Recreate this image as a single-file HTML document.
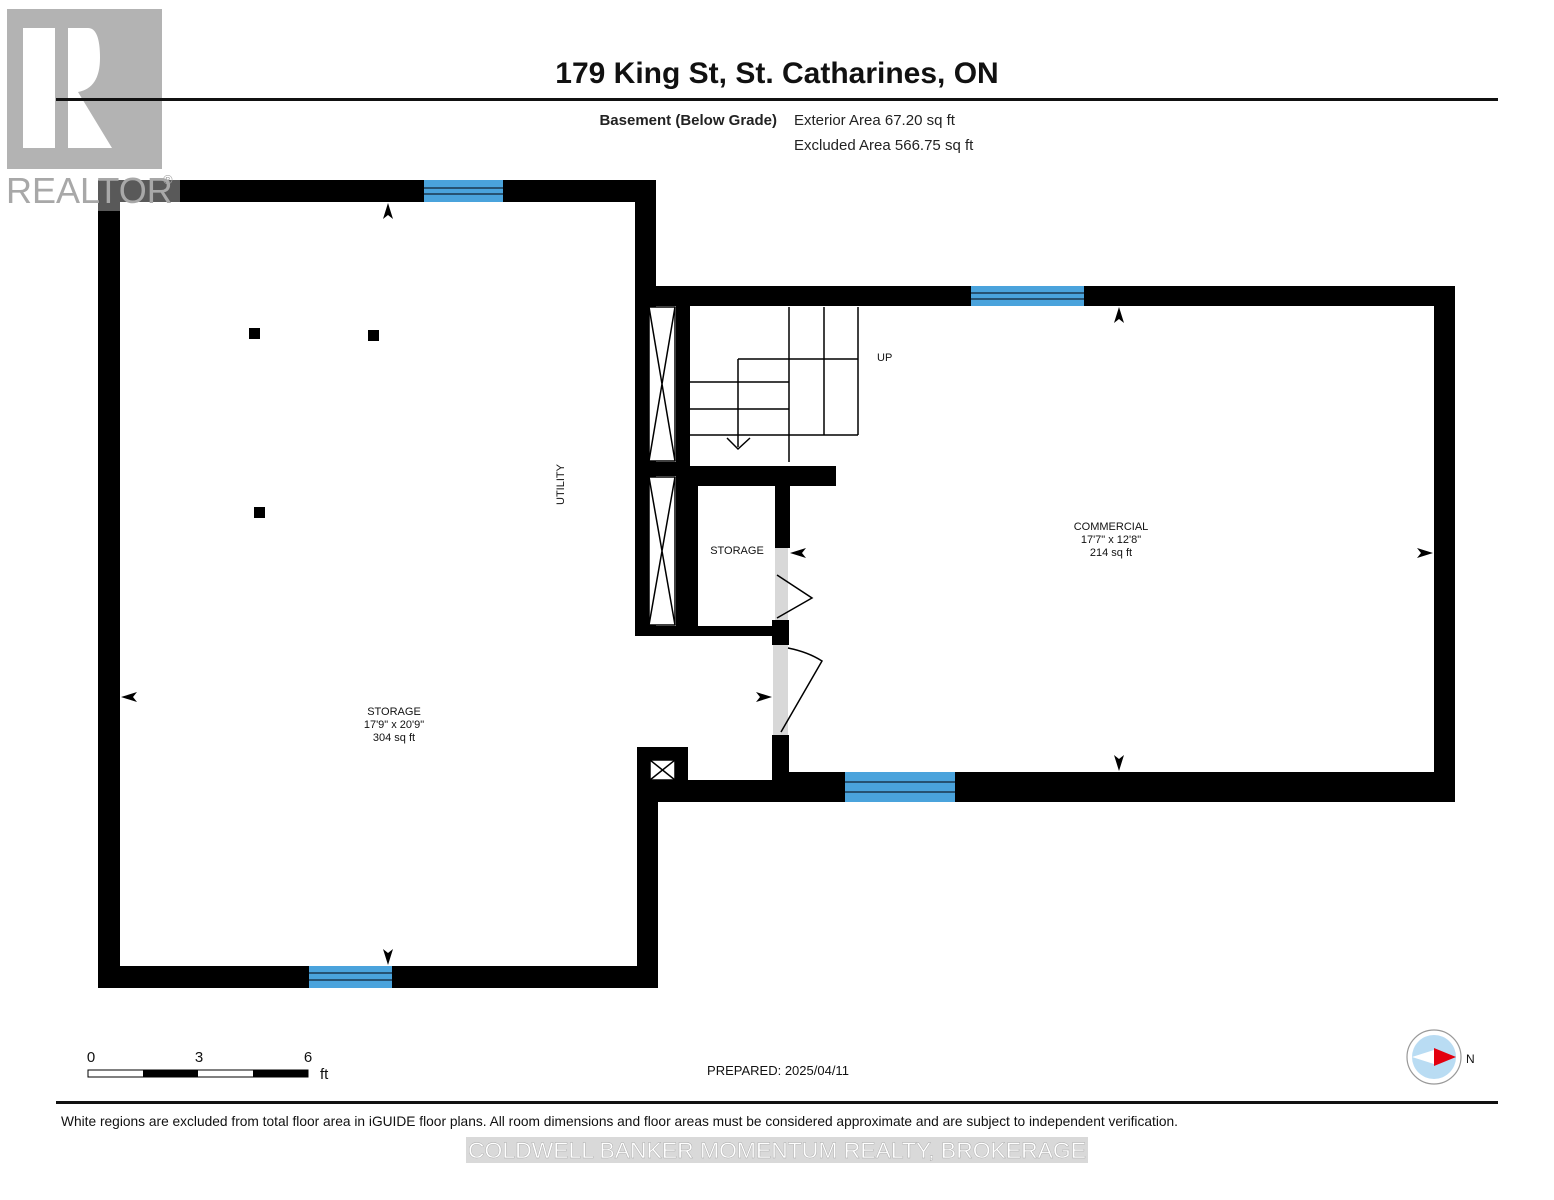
<!DOCTYPE html>
<html><head><meta charset="utf-8"><style>
html,body{margin:0;padding:0;background:#fff;width:1554px;height:1200px;overflow:hidden}
svg{display:block}
text{font-family:"Liberation Sans",Arial,sans-serif}
</style></head><body>
<svg width="1554" height="1200" viewBox="0 0 1554 1200" xmlns="http://www.w3.org/2000/svg">
<!-- Realtor logo -->
<rect x="7" y="9" width="155" height="160" fill="#b3b3b3"/>
<rect x="23" y="28" width="32" height="120" fill="#fff"/>
<path d="M68 28 H88 Q100 28 100 58 Q100 88 78 92 L112 148 H68 Z" fill="#fff"/>

<text x="777" y="83" font-size="30" font-weight="bold" text-anchor="middle" fill="#111">179 King St, St. Catharines, ON</text>
<rect x="56" y="98" width="1442" height="3" fill="#111"/>
<text x="777" y="125" font-size="15" font-weight="bold" text-anchor="end" fill="#222">Basement (Below Grade)</text>
<text x="794" y="125" font-size="15" fill="#222">Exterior Area 67.20 sq ft</text>
<text x="794" y="150" font-size="15" fill="#222">Excluded Area 566.75 sq ft</text>

<g fill="#000">
<rect x="98" y="180" width="558" height="22"/>
<rect x="98" y="180" width="22" height="808"/>
<rect x="98" y="966" width="560" height="22"/>
<rect x="635" y="180" width="21" height="456"/>
<rect x="637" y="747" width="21" height="241"/>
<rect x="637" y="747" width="51" height="33"/>
<rect x="637" y="780" width="140" height="22"/>
<rect x="656" y="286" width="799" height="20"/>
<rect x="1434" y="286" width="21" height="516"/>
<rect x="772" y="772" width="683" height="30"/>
<rect x="772" y="735" width="17" height="40"/>
<rect x="772" y="620" width="17" height="25"/>
<rect x="775" y="466" width="15" height="82"/>
<rect x="676" y="286" width="14" height="350"/>
<rect x="635" y="286" width="14" height="350"/>
<rect x="635" y="462" width="55" height="14"/>
<rect x="676" y="466" width="160" height="20"/>
<rect x="635" y="626" width="154" height="10"/>
<rect x="690" y="476" width="8" height="150"/>
<rect x="249" y="328" width="11" height="11"/>
<rect x="368" y="330" width="11" height="11"/>
<rect x="254" y="507" width="11" height="11"/>
</g>
<!-- realtor text overlay -->
<rect x="98" y="169" width="82" height="42" fill="#fff" opacity="0.35"/>
<text x="6" y="203" font-size="36" fill="#a8a8a8">REALTOR</text>
<text x="163" y="184" font-size="13" fill="#a8a8a8">®</text>
<g stroke="#000" stroke-width="1.5" fill="#fff">
<rect x="649" y="307" width="26" height="154"/>
<path d="M649 307 L675 461 M675 307 L649 461" fill="none"/>
<rect x="649" y="477" width="26" height="148"/>
<path d="M649 477 L675 625 M675 477 L649 625" fill="none"/>
<rect x="650" y="760" width="25" height="20"/>
<path d="M650 760 L675 780 M675 760 L650 780" fill="none"/>
</g>
<g fill="#4aa3dc" stroke="#123" stroke-width="1.2">
<rect x="424" y="180" width="79" height="22" stroke="none"/>
<path d="M424 188 H503 M424 194 H503"/>
<rect x="971" y="286" width="113" height="20" stroke="none"/>
<path d="M971 293 H1084 M971 299 H1084"/>
<rect x="845" y="772" width="110" height="30" stroke="none"/>
<path d="M845 782 H955 M845 792 H955"/>
<rect x="309" y="966" width="83" height="22" stroke="none"/>
<path d="M309 973 H392 M309 980 H392"/>
</g>
<g stroke="#000" stroke-width="1.5" fill="none">
<path d="M789 307 V462 M824 307 V435 M858 307 V435 M738 359 H858 M690 382 H789 M690 409 H789 M690 435 H858 M738 359 V447 M727 438 L738 449 L750 438"/>
</g>
<text x="877" y="361" font-size="11" fill="#111">UP</text>
<rect x="775" y="548" width="13" height="72" fill="#d8d8d8"/>
<path d="M777 575 L812 598 L777 618" stroke="#000" stroke-width="1.5" fill="none"/>
<rect x="773" y="645" width="15" height="90" fill="#d8d8d8"/>
<path d="M788 648 Q808 652 822 661 L781 732" stroke="#000" stroke-width="1.5" fill="none"/>
<g fill="#000">
<path d="M388 203 L383 219 L388 215 L393 219 Z"/>
<path d="M388 965 L383 949 L388 953 L393 949 Z"/>
<path d="M121 697 L137 692 L133 697 L137 702 Z"/>
<path d="M772 697 L756 692 L760 697 L756 702 Z"/>
<path d="M790 553 L806 548 L802 553 L806 558 Z"/>
<path d="M1119 307 L1114 323 L1119 319 L1124 323 Z"/>
<path d="M1119 771 L1114 755 L1119 759 L1124 755 Z"/>
<path d="M1433 553 L1417 548 L1421 553 L1417 558 Z"/>
</g>
<text x="394" y="715" font-size="11" text-anchor="middle" fill="#111">STORAGE</text>
<text x="394" y="728" font-size="11" text-anchor="middle" fill="#111">17'9" x 20'9"</text>
<text x="394" y="741" font-size="11" text-anchor="middle" fill="#111">304 sq ft</text>
<text x="1111" y="530" font-size="11" text-anchor="middle" fill="#111">COMMERCIAL</text>
<text x="1111" y="543" font-size="11" text-anchor="middle" fill="#111">17'7" x 12'8"</text>
<text x="1111" y="556" font-size="11" text-anchor="middle" fill="#111">214 sq ft</text>
<text x="737" y="554" font-size="11" text-anchor="middle" fill="#111">STORAGE</text>
<text x="0" y="0" font-size="11" fill="#111" transform="translate(564 505) rotate(-90)">UTILITY</text>
<text x="91" y="1062" font-size="15" text-anchor="middle" fill="#111">0</text>
<text x="199" y="1062" font-size="15" text-anchor="middle" fill="#111">3</text>
<text x="308" y="1062" font-size="15" text-anchor="middle" fill="#111">6</text>
<rect x="88" y="1070" width="220" height="7" fill="#fff" stroke="#000" stroke-width="1"/>
<rect x="143" y="1070" width="55" height="7" fill="#000"/>
<rect x="253" y="1070" width="55" height="7" fill="#000"/>
<text x="320" y="1079" font-size="15" fill="#111">ft</text>
<text x="778" y="1075" font-size="13" text-anchor="middle" fill="#111">PREPARED: 2025/04/11</text>
<circle cx="1434" cy="1057" r="27" fill="#fff" stroke="#999" stroke-width="1.2"/>
<circle cx="1434" cy="1057" r="22" fill="#b9dcf3"/>
<path d="M1412 1057 L1434 1050 L1434 1064 Z" fill="#fff"/>
<path d="M1456 1057 L1434 1048 L1434 1066 Z" fill="#e3000f"/>
<text x="1466" y="1063" font-size="12" fill="#111">N</text>
<rect x="56" y="1101" width="1442" height="3" fill="#111"/>
<text x="61" y="1126" font-size="13.7" fill="#111" textLength="1117" lengthAdjust="spacingAndGlyphs">White regions are excluded from total floor area in iGUIDE floor plans. All room dimensions and floor areas must be considered approximate and are subject to independent verification.</text>
<rect x="466" y="1137" width="622" height="26" fill="#c9c9c9" opacity="0.7"/>
<text x="777" y="1158" font-size="22" text-anchor="middle" fill="#fff" stroke="#aaa" stroke-width="0.4" textLength="618" lengthAdjust="spacingAndGlyphs">COLDWELL BANKER MOMENTUM REALTY, BROKERAGE</text>
</svg>
</body></html>
